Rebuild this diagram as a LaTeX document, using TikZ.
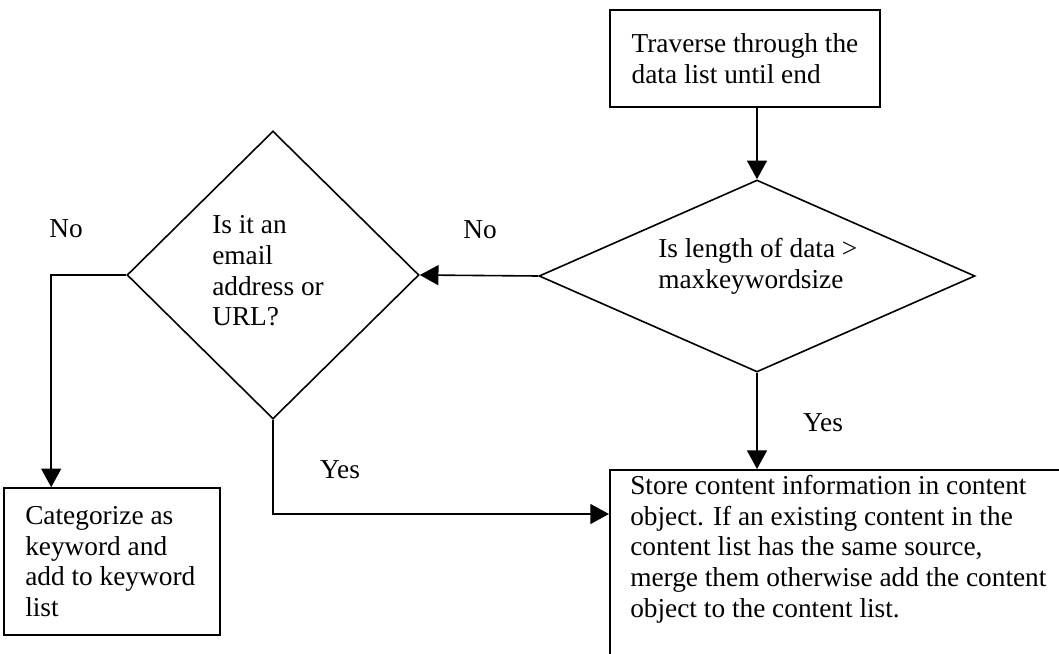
\documentclass[tikz,border=0pt]{standalone}
\usepackage{fontspec}
\setmainfont{Liberation Serif}
\usetikzlibrary{shapes.geometric,arrows.meta}
\begin{document}
\begin{tikzpicture}[x=0.75pt,y=-0.75pt,
  every node/.style={font=\fontsize{20.5}{23}\selectfont},
  box/.style={draw, line width=1.2pt, rectangle, inner sep=0pt, align=left},
  decision/.style={draw, line width=1.2pt, diamond, inner sep=0pt},
  txt/.style={inner sep=0pt, align=left},
  arr/.style={line width=1.2pt, -{Triangle[length=14pt,width=15pt]}}]
\useasboundingbox (0,0) rectangle (1059,653);

% process boxes and decisions
\node[box, minimum width=202.5pt, minimum height=72.75pt]
  (trav) at (745,58.5) {Traverse through the\\data list until end};
\node[decision, minimum width=327pt, minimum height=144pt] (len) at (757,276) {};
\node[txt, anchor=west] (lenq) at (658,266) {Is length of data >\\maxkeywordsize};
\node[decision, minimum width=219pt, minimum height=216pt] (email) at (273,275) {};
\node[txt, anchor=west] (emailq) at (212,271) {Is it an\\email\\address or\\URL?};
\node[box, minimum width=162pt, minimum height=110.25pt]
  (cat) at (112,561.5) {};
\node[txt, anchor=west] (cattxt) at (25,561.5) {Categorize as\\keyword and\\add to keyword\\list};
\node[box, anchor=north west, minimum width=349.5pt, minimum height=150.75pt]
  (store) at (609,469) {};
\node[txt, anchor=north west] (storetxt) at (630,475)
  {Store content information in content\\object. If an existing content in the\\content list has the same source,\\merge them otherwise add the content\\object to the content list.};

% connectors
\draw[arr] (len.north |- trav.south) -- (len.north);
\draw[arr] (len.west) -- (email.east);
\draw[arr] (email.west) -| ([xshift=36pt]cat.north west);
\draw[arr] (email.south) |- ([yshift=-33.75pt]store.north west);
\draw[arr] (len.south) -- (len.south |- store.north);

% branch labels
\node[txt] (noA) at (66,229) {No};
\node[txt] (noB) at (480,230) {No};
\node[txt] (yesA) at (340,470) {Yes};
\node[txt] (yesB) at (823,423) {Yes};
\end{tikzpicture}
\end{document}
